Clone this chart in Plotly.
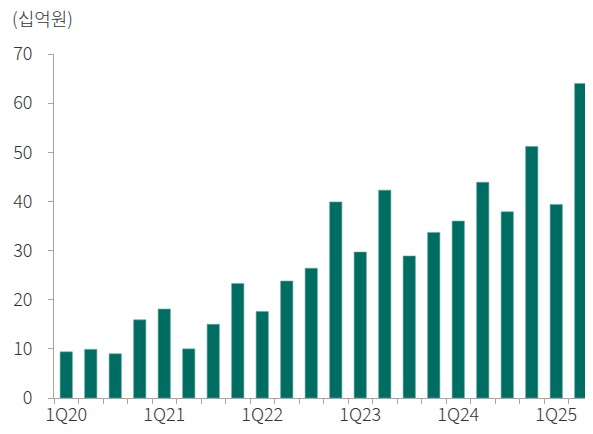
import plotly.graph_objects as go

quarters = ["1Q20", "2Q20", "3Q20", "4Q20",
            "1Q21", "2Q21", "3Q21", "4Q21",
            "1Q22", "2Q22", "3Q22", "4Q22",
            "1Q23", "2Q23", "3Q23", "4Q23",
            "1Q24", "2Q24", "3Q24", "4Q24",
            "1Q25", "2Q25"]
values = [9.4, 9.9, 9.0, 15.9,
          18.1, 10.0, 15.0, 23.3,
          17.6, 23.8, 26.4, 39.9,
          29.7, 42.3, 28.9, 33.7,
          36.0, 43.9, 37.9, 51.2,
          39.4, 64.0]
tick_labels = [q if q.startswith("1Q") else "" for q in quarters]
y_ticks = [0, 10, 20, 30, 40, 50, 60, 70]
unit_label = "(십억원)"

FONT = "Noto Sans CJK KR"
TXT = "#333333"
AX = "#a6a6a6"

W, H = 593, 434
ML, MT, MB, MR = 46, 46, 44, 8

fig = go.Figure()
fig.add_trace(go.Bar(
    x=quarters, y=values,
    marker=dict(color="#006d62", line=dict(color="#5fa89f", width=0.6)),
    width=0.5,
))

fig.update_layout(
    width=W, height=H,
    margin=dict(l=ML, r=MR, t=MT, b=MB),
    plot_bgcolor="white", paper_bgcolor="white",
    showlegend=False,
    font=dict(family=FONT, size=18, color=TXT, weight=300),
    title=dict(
        text=unit_label, xref="container", yref="container",
        x=4 / W, y=1 - 12 / H, xanchor="left", yanchor="middle",
        pad=dict(l=0, r=0, t=0, b=0),
        font=dict(family=FONT, size=18, color=TXT, weight=300),
    ),
)
fig.update_xaxes(
    type="category",
    tickmode="array", tickvals=quarters, ticktext=tick_labels,
    tickson="boundaries", ticks="outside", ticklen=5, tickcolor=AX,
    tickangle=0, automargin=False,
    showline=True, linecolor=AX, linewidth=1,
    showgrid=False, zeroline=False,
    tickfont=dict(family=FONT, size=18, color=TXT, weight=300),
    range=[-0.5, len(quarters) - 0.5],
)
fig.update_yaxes(
    range=[0, 70], tickmode="array", tickvals=y_ticks,
    ticks="outside", ticklen=5, tickcolor=AX,
    automargin=False,
    showline=True, linecolor=AX, linewidth=1,
    showgrid=False, zeroline=False,
    ticklabelstandoff=12,
    tickfont=dict(family=FONT, size=18, color=TXT, weight=300),
)

fig.write_html("out.html")
